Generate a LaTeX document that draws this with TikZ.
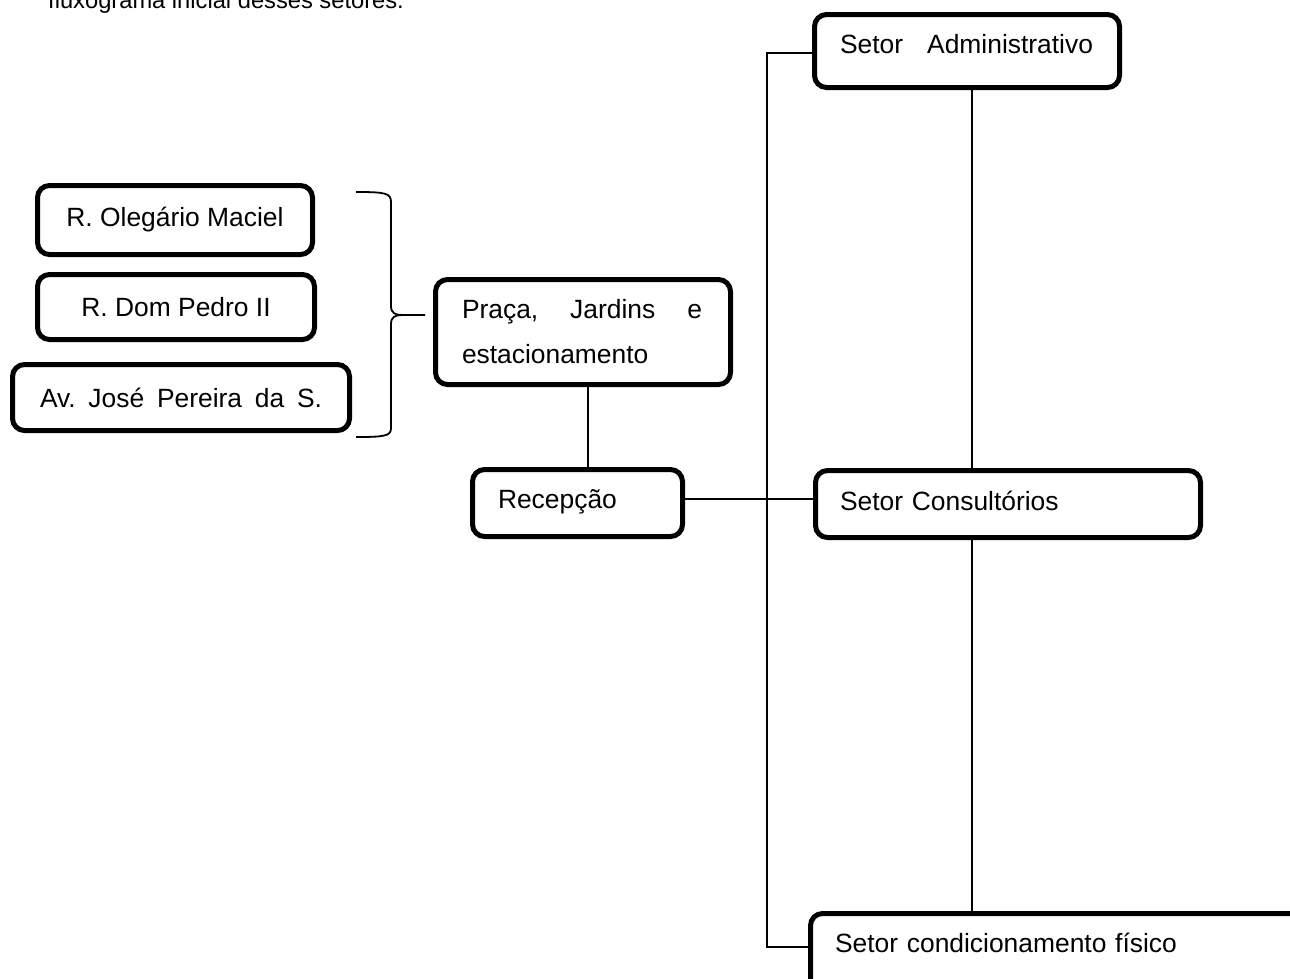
\documentclass[tikz,border=0pt]{standalone}
\usepackage{fontspec}
\setmainfont{Liberation Sans}
\begin{document}
\begin{tikzpicture}[x=1pt,y=-1pt,
  every node/.style={font=\fontsize{26.4}{45}\selectfont},
  box/.style={draw, line width=5pt, rounded corners=12pt, inner sep=0pt, text height=19pt},
  conn/.style={line width=1.8pt},
  brace/.style={line width=1.8pt}]
\useasboundingbox (0,0) rectangle (1290,978);
\clip (0,0) rectangle (1290,978);

% top cut-off text
\node[anchor=base west, inner sep=0pt, font=\fontsize{23.7}{28}\selectfont] (toptext) at (48,8.5) {fluxograma inicial desses setores.};

% left boxes
\node[box, minimum width=275pt, minimum height=69pt, text depth=7pt] (ole) at (175,220) {R. Olegário Maciel};
\node[box, minimum width=277pt, minimum height=65pt, text depth=0pt] (dom) at (176,307) {R. Dom Pedro II};
\node[box, minimum width=337pt, minimum height=66pt, text depth=0pt] (av) at (181,397.5) {\makebox[282pt][l]{Av.\hfill José\hfill Pereira\hfill da\hfill S.}};

% brace
\draw[brace] (356,192) .. controls (385,192) and (391,193) .. (391,202) -- (391,306)
  .. controls (391,313) and (395,315) .. (402,315) -- (425,315);
\draw[brace] (402,315) .. controls (395,315) and (391,317) .. (391,324) -- (391,428)
  .. controls (391,436) and (385,437) .. (356,437);

% centre boxes
\node[draw, line width=5pt, rounded corners=12pt, inner sep=0pt, minimum width=295pt, minimum height=105pt, text width=242pt, align=left] (praca) at (583,332)
  {\raisebox{-2pt}{\makebox[240pt][l]{Praça,\hfill Jardins\hfill e}}\\\raisebox{-2pt}{estacionamento}};
\node[box, minimum width=210pt, minimum height=67pt, text width=159pt, align=left, text depth=9pt] (recep) at (577.5,503) {Recepção};

% right boxes
\node[box, minimum width=305pt, minimum height=73pt, text width=254pt, align=left, text depth=15pt] (adm) at (967,51) {\makebox[253pt][l]{Setor\hfill Administrativo}};
\node[box, minimum width=385pt, minimum height=67pt, text width=336pt, align=left, text depth=7pt] (cons) at (1008,504) {Setor Consultórios};
\node[box, minimum width=600pt, minimum height=84pt, text width=551pt, align=left, text depth=26pt] (cond) at (1110.5,955.5) {Setor condicionamento físico};

% connectors
\coordinate (barT) at (767,53);
\coordinate (barB) at (767,947);
\draw[conn] ([xshift=5pt]praca.south) -- ([xshift=5pt]praca.south |- recep.north);
\draw[conn] ([yshift=4pt]recep.east) -- ([yshift=4pt]recep.east -| cons.west);
\draw[conn] ([yshift=-2pt]adm.west) -- (barT) -- (barB) -- (barB -| cond.west);
\draw[conn] ([xshift=5pt]adm.south) -- ([xshift=5pt]adm.south |- cons.north);
\draw[conn] ([xshift=5pt]adm.south |- cons.south) -- ([xshift=5pt]adm.south |- cond.north);
\end{tikzpicture}
\end{document}
